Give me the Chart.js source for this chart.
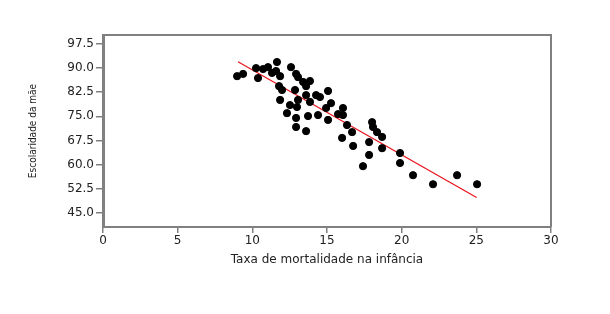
<!DOCTYPE html>
<html>
<head>
<meta charset="utf-8">
<script src="https://cdn.jsdelivr.net/npm/chart.js@4/dist/chart.umd.min.js"></script>
<style>
  html, body { margin: 0; padding: 0; background: #fff; }
</style>
</head>
<body>
<canvas id="grafico" width="610" height="314"></canvas>
<script>
// valores
const mortalidade = [8.98, 9.38, 10.25, 10.38, 10.72, 11.05, 11.32, 11.65, 11.59, 11.86, 11.79, 11.99,
  12.59, 12.93, 13.06, 13.4, 13.86, 13.6, 12.86, 13.6, 14.27, 14.53, 15.07, 13.86, 15.27, 14.94,
  16.07, 13.06, 12.52, 12.99, 12.32, 12.93, 13.73, 14.4, 15.74, 16.07, 15.07, 12.93, 13.6, 16.34,
  16.68, 16.01, 16.75, 18.02, 18.08, 18.35, 18.69, 17.82, 18.69, 17.82, 17.41, 19.89, 19.89,
  20.76, 22.1, 23.71, 25.05, 11.86];
const escolaridade = [87.5, 88.2, 90.0, 86.9, 89.7, 90.3, 88.5, 91.9, 89.1, 87.5, 84.4, 83.2,
  90.3, 88.2, 87.2, 85.7, 86.0, 84.4, 83.2, 81.6, 81.6, 81.0, 82.9, 79.5, 79.1, 77.6,
  77.6, 80.1, 78.5, 77.9, 76.0, 74.5, 75.1, 75.4, 75.7, 75.4, 73.9, 71.7, 70.4, 72.3,
  70.1, 68.3, 65.8, 73.2, 71.7, 70.1, 68.6, 67.0, 65.1, 63.0, 59.5, 63.6, 60.5,
  56.7, 53.9, 56.7, 53.9, 80.1];
const retaX = [9.04, 25.02];
const retaY = [92.0, 49.8];
const ticksY = [45.0, 52.5, 60.0, 67.5, 75.0, 82.5, 90.0, 97.5];

const pontos = mortalidade.map((v, i) => ({ x: v, y: escolaridade[i] }));
const reta = retaX.map((v, i) => ({ x: v, y: retaY[i] }));

const moldura = {
  id: 'moldura',
  afterDatasetsDraw(chart) {
    const a = chart.chartArea;
    const ctx = chart.ctx;
    ctx.save();
    ctx.strokeStyle = '#808080';
    ctx.lineWidth = 2;
    ctx.beginPath();
    ctx.moveTo(a.left, a.top);
    ctx.lineTo(a.right, a.top);
    ctx.lineTo(a.right, a.bottom);
    ctx.stroke();
    ctx.restore();
  }
};

new Chart(document.getElementById('grafico'), {
  type: 'scatter',
  data: {
    datasets: [
      {
        data: pontos,
        backgroundColor: '#000',
        borderColor: '#000',
        pointRadius: 3.6,
        pointHoverRadius: 3.6
      },
      {
        type: 'line',
        data: reta,
        borderColor: '#e8101a',
        borderWidth: 1.2,
        pointRadius: 0,
        fill: false
      }
    ]
  },
  options: {
    responsive: false,
    animation: false,
    devicePixelRatio: 1,
    layout: { padding: { left: 0, right: 59, top: 35, bottom: 43 } },
    plugins: { legend: { display: false }, tooltip: { enabled: false } },
    scales: {
      x: {
        type: 'linear',
        min: 0, max: 30,
        afterFit: s => { s.height = 44; },
        border: { color: '#808080', width: 2 },
        grid: { drawOnChartArea: false, color: '#808080', tickLength: 6, lineWidth: 1.5 },
        ticks: { stepSize: 5, color: '#222', padding: 1, font: { family: 'DejaVu Sans', size: 12 } },
        title: { display: true, text: 'Taxa de mortalidade na infância', color: '#222', padding: { top: 2 },
          font: { family: 'DejaVu Sans', size: 12 } }
      },
      y: {
        min: 40.6, max: 100.3,
        afterFit: s => { s.width = 103; },
        afterBuildTicks: s => { s.ticks = ticksY.map(v => ({ value: v })); },
        border: { color: '#808080', width: 3 },
        grid: { drawOnChartArea: false, color: '#808080', tickLength: 7, lineWidth: 1.5 },
        ticks: { color: '#222', padding: 2, callback: v => v.toFixed(1),
          font: { family: 'DejaVu Sans', size: 12 } },
        title: { display: true, text: 'Escolaridade da mãe', color: '#222', padding: { top: 27, bottom: 2 },
          font: { family: 'Liberation Sans Narrow, DejaVu Sans Condensed, DejaVu Sans', size: 10 } }
      }
    }
  },
  plugins: [moldura]
});
</script>
</body>
</html>
